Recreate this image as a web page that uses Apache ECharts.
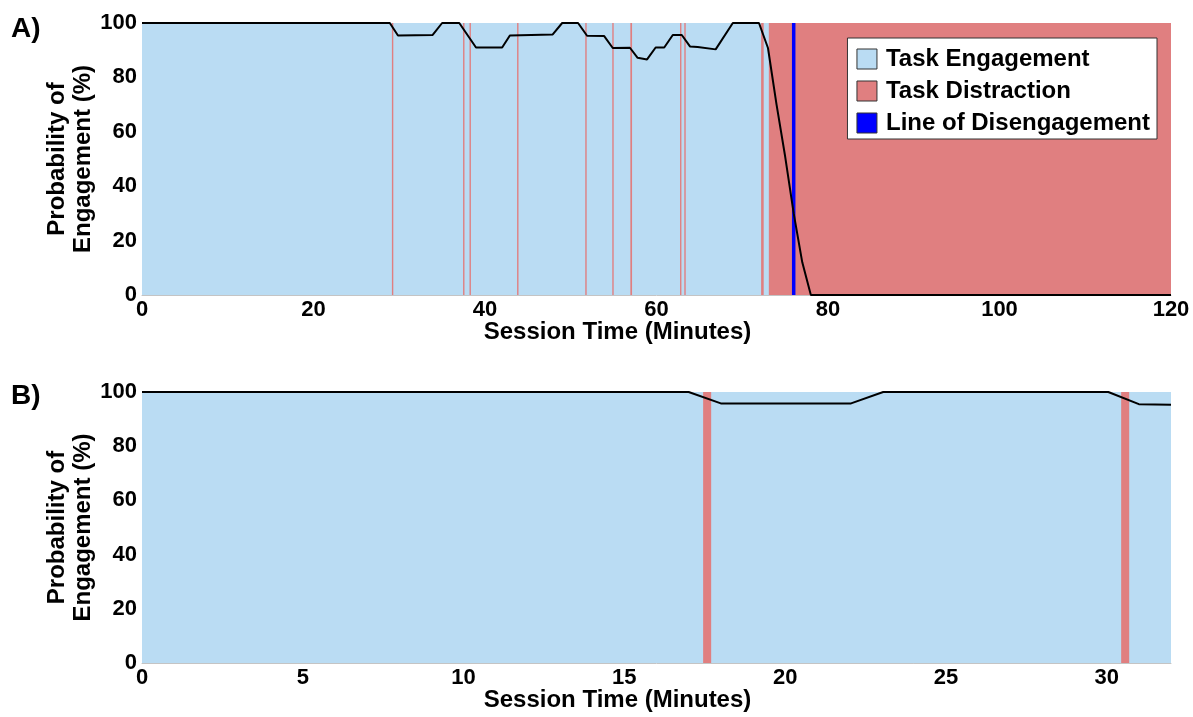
<!DOCTYPE html>
<html><head><meta charset="utf-8">
<script src="https://cdn.jsdelivr.net/npm/echarts@6/dist/echarts.min.js"></script>
<style>html,body{margin:0;padding:0;background:#fff}#c{width:1193px;height:717px}</style>
</head><body><div id="c"></div>
<script>
// ---- Panel A data (minutes, %) ----
const engagementLineA = [[0,100],[28.9,100],[29.85,95.4],[33.9,95.6],[35.0,100],[37.0,100],[38.95,91],[42.0,91],[42.9,95.4],[47.9,95.8],[49.0,100],[50.85,100],[51.9,95.3],[53.9,95.2],[54.9,90.8],[56.9,90.9],[57.8,87.2],[58.9,86.6],[59.9,91],[60.9,91],[61.9,95.6],[62.95,95.6],[63.9,91.4],[64.8,91.2],[66.9,90.3],[68.9,100],[71.95,100],[73.0,90.8],[74.0,70],[75.0,51],[76.0,30],[77.0,12],[78.0,0],[120,0]];
const distractionA = [[29.15,29.3],[37.45,37.6],[38.2,38.35],[43.75,43.9],[51.7,51.85],[54.85,55.0],[56.95,57.15],[62.75,62.9],[63.25,63.4],[72.2,72.5],[73.1,120]];
const engagementSpanA = [[0,120]];
const disengagementA = [76];
const xTicksA = [0,20,40,60,80,100,120];

// ---- Panel B data ----
const engagementLineB = [[0,100],[17.0,100],[18.0,95.8],[22.05,95.8],[23.05,100],[30.05,100],[31.0,95.5],[32,95.3]];
const distractionB = [[17.45,17.7],[30.45,30.7]];
const engagementSpanB = [[0,32]];
const xTicksB = [0,5,10,15,20,25,30];

const yTicks = [0,20,40,60,80,100];
const names = ['Task Engagement','Task Distraction','Line of Disengagement'];

const FONT = "'Liberation Sans', Arial, sans-serif";
const C_ENG = '#BADCF3', C_DIS = '#E07F80', C_LINE = '#0000FF';

function rectRender(color, minW) {
  return function (params, api) {
    const x0 = api.value(0), x1 = api.value(1);
    const p0 = api.coord([x0, yTicks[yTicks.length-1]]);
    const p1 = api.coord([x1, yTicks[0]]);
    let x = p0[0], w = p1[0] - p0[0];
    if (w < minW) { const c = (p0[0] + p1[0]) / 2; x = c - minW / 2; w = minW; }
    return { type: 'rect', shape: { x: x, y: p0[1], width: w, height: p1[1] - p0[1] }, style: { fill: color } };
  };
}

function xAxisFor(idx, ticks, showMax) {
  return {
    type: 'value', gridIndex: idx, min: ticks[0], max: idx === 0 ? ticks[ticks.length-1] : 32,
    interval: ticks[1] - ticks[0],
    name: 'Session Time (Minutes)', nameLocation: 'middle', nameGap: 25, nameMoveOverlap: false,
    nameTextStyle: { fontFamily: FONT, fontWeight: 'bold', fontSize: 24, color: '#000', padding: [0, 78, 0, 0] },
    axisLine: { show: true, lineStyle: { color: '#c4c4c4', width: 1 } },
    axisTick: { show: false }, splitLine: { show: false },
    axisLabel: { fontFamily: FONT, fontWeight: 'bold', fontSize: 22, color: '#000', margin: 4, showMaxLabel: showMax }
  };
}
function yAxisFor(idx) {
  return {
    type: 'value', gridIndex: idx, min: yTicks[0], max: yTicks[yTicks.length-1], interval: yTicks[1]-yTicks[0],
    name: 'Probability of\nEngagement (%)', nameLocation: 'middle', nameGap: 46, nameRotate: 90, nameMoveOverlap: false,
    nameTextStyle: { fontFamily: FONT, fontWeight: 'bold', fontSize: 24, lineHeight: 26, color: '#000' },
    axisLine: { show: true, lineStyle: { color: '#c4c4c4', width: 1 } },
    axisTick: { show: false }, splitLine: { show: false },
    axisLabel: { fontFamily: FONT, fontWeight: 'bold', fontSize: 22, color: '#000', margin: 5 }
  };
}

const chart = echarts.init(document.getElementById('c'), null, { renderer: 'canvas' });
chart.setOption({
  animation: false,
  backgroundColor: '#fff',
  grid: [
    { left: 142, top: 23, width: 1029, height: 272 },
    { left: 142, top: 392, width: 1029, height: 271 }
  ],
  xAxis: [xAxisFor(0, xTicksA, true), xAxisFor(1, xTicksB, false)],
  yAxis: [yAxisFor(0), yAxisFor(1)],
  graphic: [
    { type: 'text', left: 11, top: 15, style: { text: 'A)', font: "bold 28px 'Liberation Sans', Arial, sans-serif", fill: '#000' } },
    { type: 'text', left: 11, top: 382, style: { text: 'B)', font: "bold 28px 'Liberation Sans', Arial, sans-serif", fill: '#000' } }
  ],
  legend: {
    orient: 'vertical', top: 38, right: 36, icon: 'rect', itemWidth: 20, itemHeight: 20, itemGap: 8,
    backgroundColor: '#fff', borderColor: '#333', borderWidth: 1, borderRadius: 0, padding: [9, 7, 4, 9],
    textStyle: { fontFamily: FONT, fontWeight: 'bold', fontSize: 24, lineHeight: 24, color: '#000', padding: [0, 0, 0, 4] },
    itemStyle: { borderColor: '#333', borderWidth: 1 },
    data: [
      { name: names[0], itemStyle: { color: C_ENG } },
      { name: names[1], itemStyle: { color: C_DIS } },
      { name: names[2], itemStyle: { color: C_LINE } }
    ]
  },
  series: [
    { type: 'custom', name: names[0], xAxisIndex: 0, yAxisIndex: 0, z: 1, itemStyle: { color: C_ENG },
      renderItem: rectRender(C_ENG, 0), data: engagementSpanA, encode: { x: [0, 1] } },
    { type: 'custom', name: names[1], xAxisIndex: 0, yAxisIndex: 0, z: 2, itemStyle: { color: C_DIS },
      renderItem: rectRender(C_DIS, 1.4), data: distractionA, encode: { x: [0, 1] } },
    { type: 'line', name: names[2], xAxisIndex: 0, yAxisIndex: 0, z: 3, symbol: 'none', itemStyle: { color: C_LINE },
      lineStyle: { color: C_LINE, width: 3.5 }, data: [[disengagementA[0], yTicks[0]], [disengagementA[0], yTicks[yTicks.length-1]]] },
    { type: 'line', name: 'Engagement A', xAxisIndex: 0, yAxisIndex: 0, z: 4, symbol: 'none',
      lineStyle: { color: '#000', width: 2 }, data: engagementLineA },
    { type: 'custom', name: names[0], xAxisIndex: 1, yAxisIndex: 1, z: 1, itemStyle: { color: C_ENG },
      renderItem: rectRender(C_ENG, 0), data: engagementSpanB, encode: { x: [0, 1] } },
    { type: 'custom', name: names[1], xAxisIndex: 1, yAxisIndex: 1, z: 2, itemStyle: { color: C_DIS },
      renderItem: rectRender(C_DIS, 1.4), data: distractionB, encode: { x: [0, 1] } },
    { type: 'line', name: 'Engagement B', xAxisIndex: 1, yAxisIndex: 1, z: 4, symbol: 'none',
      lineStyle: { color: '#000', width: 2 }, data: engagementLineB }
  ]
});
</script>
</body></html>
